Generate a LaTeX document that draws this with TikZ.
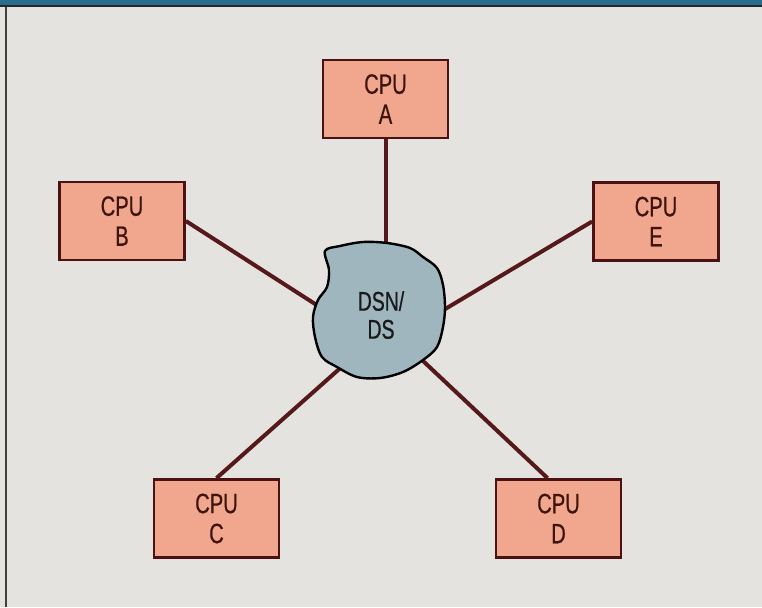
\documentclass[tikz,border=0pt]{standalone}
\usepackage{fontspec}
\newfontfamily\cond{Liberation Sans}[FakeStretch=0.72,FakeBold=0.6]
\definecolor{bgc}{HTML}{E5E3E0}
\definecolor{barc}{HTML}{276E8C}
\definecolor{boxfill}{HTML}{F0A78E}
\definecolor{boxline}{HTML}{4A1212}
\definecolor{linkc}{HTML}{55191B}
\definecolor{blobc}{HTML}{9FB6BF}
\definecolor{txtc}{HTML}{3E140E}
\tikzset{
  cpubox/.style={draw=boxline, fill=boxfill, line width=2.8pt,
    minimum width=125pt, minimum height=78pt, inner sep=0pt,
    align=center, text=txtc, font=\cond\fontsize{28}{30}\selectfont},
  link/.style={draw=linkc, line width=4pt},
  blobshape/.style={draw=black, fill=blobc, line width=2.4pt},
  blobtext/.style={align=center, text=black!90, inner sep=0pt,
    font=\cond\fontsize{27}{28}\selectfont}
}
\begin{document}
\begin{tikzpicture}[x=1pt,y=-1pt]
\useasboundingbox (0,0) rectangle (762,607);
% background
\fill[bgc] (0,0) rectangle (762,607);
\fill[barc] (0,0) rectangle (762,5.5);
\fill[black!85] (0,5.5) rectangle (762,7.5);
\fill[black!75] (5,7.5) rectangle (7,607);
% boxes
\node[cpubox] (A) at (385.5,99) {CPU\\A};
\node[cpubox] (B) at (122,221) {CPU\\B};
\node[cpubox] (E) at (656,221.5) {CPU\\E};
\node[cpubox] (C) at (216.5,518.5) {CPU\\C};
\node[cpubox] (D) at (558.5,518.5) {CPU\\D};
% hub end points
\coordinate (hA) at (385.5,290);
\coordinate (hB) at (340,320);
\coordinate (hC) at (355,355);
\coordinate (hD) at (405,344);
\coordinate (hE) at (420,324);
\coordinate (dD) at ([xshift=-11pt]D.north);
% links
\draw[link] (A.south) -- (hA);
\draw[link] (B.east) -- (hB);
\draw[link] (C.north) -- (hC);
\draw[link] (dD) -- (hD);
\draw[link] (E.west) -- (hE);
% blob
\draw[blobshape] plot[smooth cycle, tension=0.55] coordinates {
 (325,251) (340,246) (363,242) (387,243) (410,248) (423,257) (437,268)
 (443,285) (445,307) (443,327) (437,347) (423,360) (403,372) (380,378)
 (357,377) (337,367) (322,357) (315,337) (313,317) (318,300) (327,287)
 (329,270)};
\node[blobtext] (hub) at (381,315) {DSN/\\DS};
\end{tikzpicture}
\end{document}
